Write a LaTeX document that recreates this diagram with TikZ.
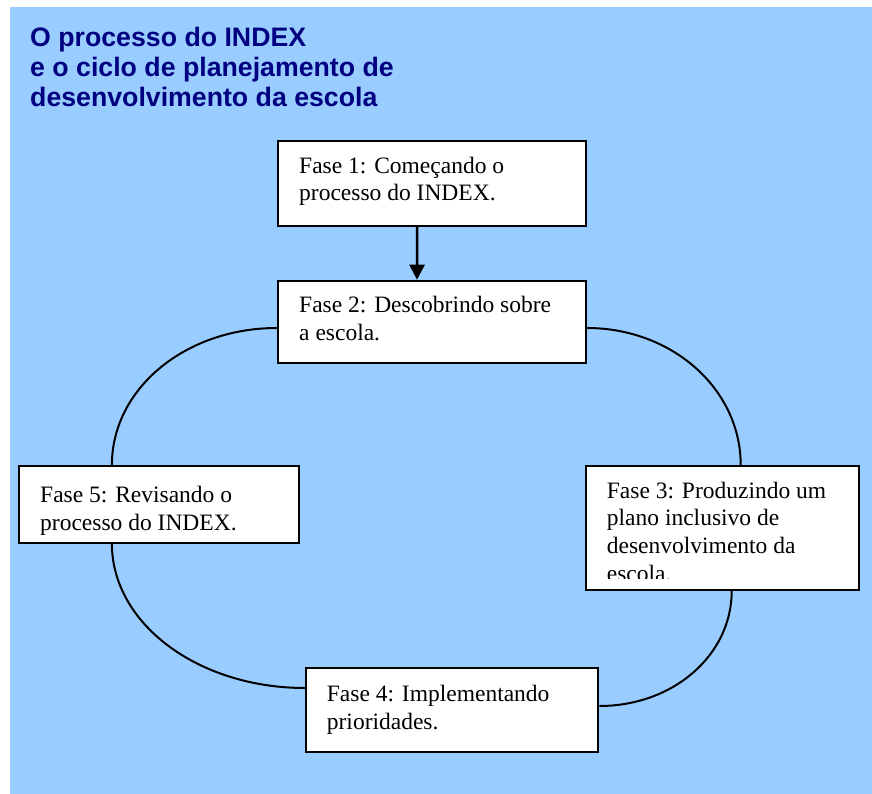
\documentclass[tikz,border=0pt]{standalone}
\usepackage{fontspec}
\setmainfont{Liberation Serif}
\newfontfamily\titlefont{Liberation Sans}
\usetikzlibrary{arrows.meta,positioning}
\definecolor{fundo}{HTML}{99CCFF}
\definecolor{titulo}{HTML}{000080}

\begin{document}
\begin{tikzpicture}
  [x=1pt,y=-1pt,
  fasebox/.style={rectangle,draw,fill=white,line width=2pt,inner sep=0pt},
  fasetext/.style={anchor=base west,align=left,inner sep=0pt,font=\fontsize{23.5}{27.7}\selectfont},
  ciclo/.style={line width=2pt},
  avanca/.style={line width=2.5pt,-{Triangle[length=15pt,width=15pt]}}
  ]
  \useasboundingbox (0,0) rectangle (872,794);
  \fill[fundo] (10,7) rectangle (872,794);

  \node[anchor=base west,align=left,inner sep=0pt,text=titulo,
    font=\titlefont\bfseries\fontsize{26.7}{30}\selectfont] (titulo) at (30,106.5)
    {O processo do INDEX\\e o ciclo de planejamento de\\desenvolvimento da escola};

  % as cinco fases
  \node[fasebox,minimum width=307.7pt,minimum height=85pt] (fase1) at (432.2,183.2) {};
  \node[fasebox,minimum width=308pt,minimum height=82.6pt] (fase2) at (432,322) {};
  \node[fasebox,minimum width=272.7pt,minimum height=124pt] (fase3) at (722.3,528) {};
  \node[fasebox,minimum width=292.3pt,minimum height=84pt] (fase4) at (452.2,709.7) {};
  \node[fasebox,minimum width=279.7pt,minimum height=76.7pt] (fase5) at (158.9,504.3) {};

  % base = ultima linha do texto
  \node[fasetext] (fase1txt) at (299,201) {Fase 1: Começando o\\processo do INDEX.};
  \node[fasetext] (fase2txt) at (299,340.4) {Fase 2: Descobrindo sobre\\a escola.};
  \begin{scope}
    \clip (fase3.north west) rectangle ([yshift=13pt]fase3.south east);
    \node[fasetext] (fase3txt) at (606.7,581.1) {Fase 3: Produzindo um\\plano inclusivo de\\desenvolvimento da\\escola.};
  \end{scope}
  \node[fasetext] (fase4txt) at (326.7,729.4) {Fase 4: Implementando\\prioridades.};
  \node[fasetext] (fase5txt) at (40,530.4) {Fase 5: Revisando o\\processo do INDEX.};

  \draw[avanca] ([xshift=-15pt]fase1.south) -- ([xshift=-15pt]fase2.north);

  % o ciclo
  \draw[ciclo] ([yshift=-6pt]fase2.west) .. controls +(-92,0) and +(0,-76) .. ([xshift=-47pt]fase5.north);
  \draw[ciclo] ([yshift=-6pt]fase2.east) .. controls +(85,0) and +(0,-76) .. ([xshift=18.4pt]fase3.north);
  \draw[ciclo] ([xshift=-47pt]fase5.south) .. controls +(0,80) and +(-107,0) .. ([yshift=21.7pt]fase4.west);
  \draw[ciclo] ([xshift=9.4pt]fase3.south) .. controls +(0,64) and +(74,0) .. ([yshift=3.7pt]fase4.east);
\end{tikzpicture}
\end{document}
